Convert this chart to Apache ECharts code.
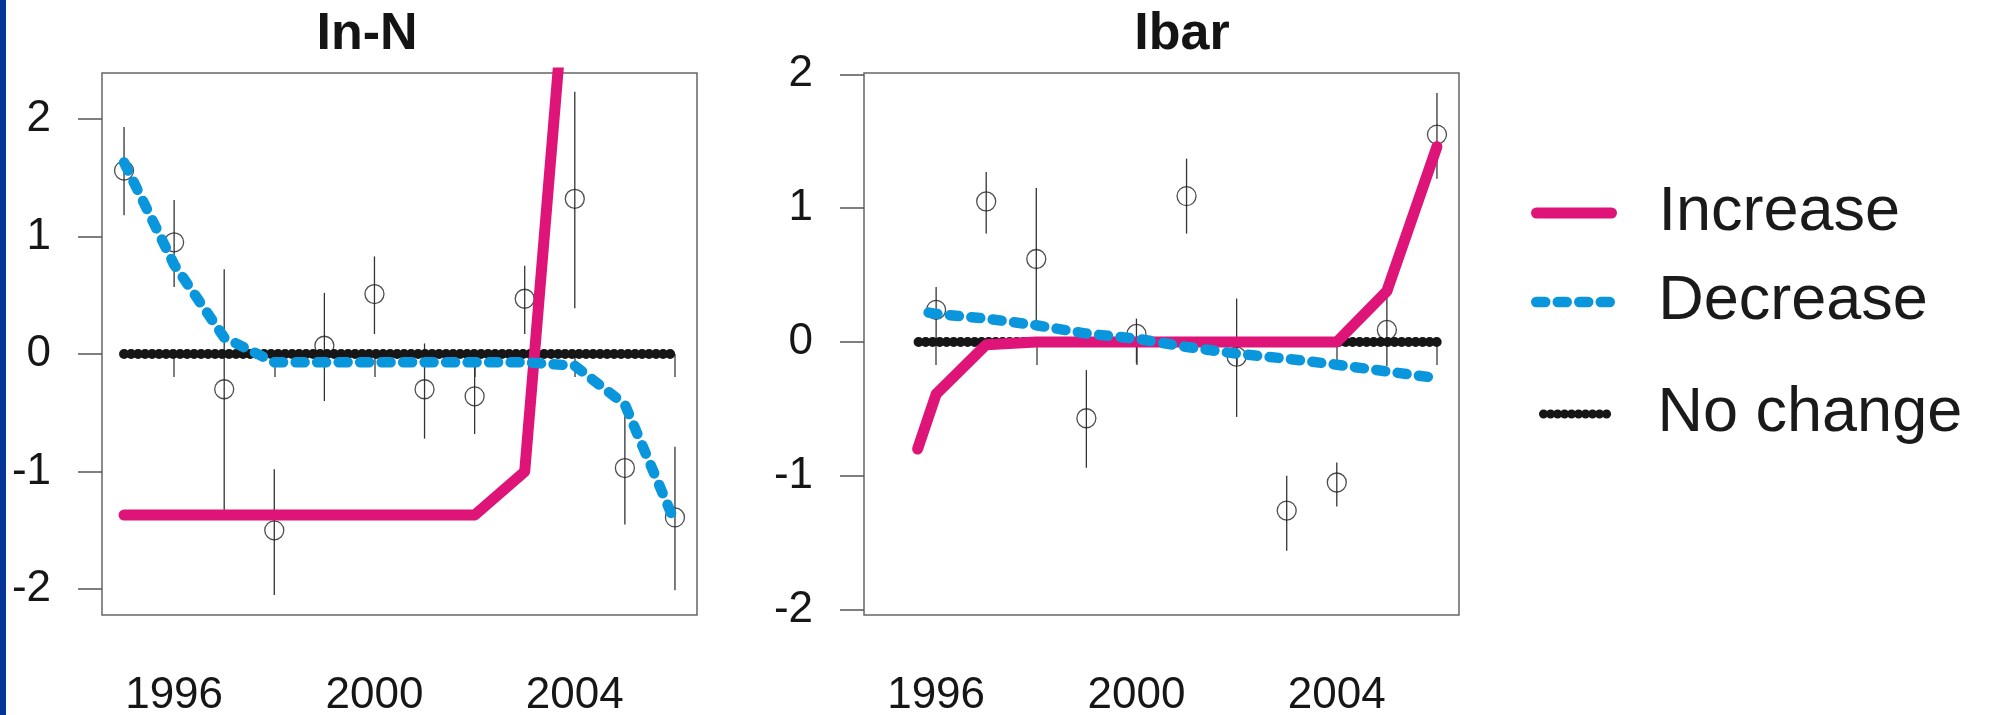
<!DOCTYPE html>
<html>
<head>
<meta charset="utf-8">
<script src="https://cdn.jsdelivr.net/npm/echarts@6/dist/echarts.min.js"></script>
<style>
  html, body { margin: 0; padding: 0; background: #fff; }
  #chart { width: 1989px; height: 715px; }
</style>
</head>
<body>
<div id="chart"></div>
<script>
// ---- data ----
var years = [1995, 1996, 1997, 1998, 1999, 2000, 2001, 2002, 2003, 2004, 2005, 2006];

// In-N panel: estimates with error bars
var innEst = [1.56, 0.95, -0.30, -1.50, 0.07, 0.51, -0.30, -0.36, 0.47, 1.32, -0.97, -1.39];
var innLo  = [1.18, 0.57, -1.34, -2.05, -0.40, 0.17, -0.72, -0.68, 0.17, 0.39, -1.45, -2.01];
var innHi  = [1.93, 1.31, 0.72, -0.98, 0.52, 0.83, 0.09, -0.05, 0.75, 2.23, -0.53, -0.79];
// In-N fitted lines
var innIncX = [1995, 1996, 1997, 1998, 1999, 2000, 2001, 2002, 2003, 2004];
var innIncY = [-1.37, -1.37, -1.37, -1.37, -1.37, -1.37, -1.37, -1.37, -1.0, 4.12];
var innDecY = [1.63, 0.76, 0.14, -0.07, -0.07, -0.07, -0.07, -0.07, -0.07, -0.10, -0.43, -1.43];
var innNoX  = [1995, 2006];
var innNoY  = [0, 0];

// Ibar panel
var ibarYears = [1996, 1997, 1998, 1999, 2000, 2001, 2002, 2003, 2004, 2005, 2006];
var ibarEst = [0.24, 1.05, 0.62, -0.57, 0.06, 1.09, -0.11, -1.26, -1.05, 0.09, 1.55];
var ibarLo  = [0.00, 0.81, 0.15, -0.94, -0.16, 0.81, -0.56, -1.56, -1.23, -0.18, 1.22];
var ibarHi  = [0.41, 1.27, 1.15, -0.21, 0.175, 1.37, 0.325, -1.00, -0.90, 0.34, 1.86];
var ibarIncX = [1995.63, 1996, 1997, 1998, 1999, 2000, 2001, 2002, 2003, 2004, 2005, 2006];
var ibarIncY = [-0.80, -0.39, -0.02, 0, 0, 0, 0, 0, 0, 0, 0.38, 1.46];
var ibarDecX = [1995.85, 1996, 1997, 1998, 1999, 2000, 2001, 2002, 2003, 2004, 2005, 2006];
var ibarDecY = [0.22, 0.21, 0.175, 0.125, 0.063, 0.025, -0.037, -0.087, -0.125, -0.17, -0.22, -0.27];
var ibarNoX  = [1995.65, 2006];
var ibarNoY  = [0, 0];

// axes
var xTicks = [1996, 1998, 2000, 2002, 2004, 2006];
var xLabels = [1996, 2000, 2004];
var yTicks = [-2, -1, 0, 1, 2];

var PINK = '#de1479', BLUE = '#0a96dc', BLACK = '#161616';
var DASH_DEC = [9, 12.5], DASH_NO = [0.1, 6.9];
var FONT = 'Liberation Sans';

function pairs(xs, ys) { return xs.map(function (x, i) { return [x, ys[i]]; }); }
function triples(xs, lo, hi) { return xs.map(function (x, i) { return [x, lo[i], hi[i]]; }); }

function errorBars(gi, data) {
  return {
    type: 'custom', xAxisIndex: gi, yAxisIndex: gi, z: 1,
    data: data, encode: { x: 0, y: [1, 2] }, silent: true,
    renderItem: function (params, api) {
      var a = api.coord([api.value(0), api.value(1)]);
      var b = api.coord([api.value(0), api.value(2)]);
      return { type: 'line', shape: { x1: a[0], y1: a[1], x2: b[0], y2: b[1] },
               style: { stroke: '#333', lineWidth: 1.3 } };
    }
  };
}
function points(gi, data) {
  return {
    type: 'scatter', xAxisIndex: gi, yAxisIndex: gi, z: 2, data: data,
    symbol: 'circle', symbolSize: 19, silent: true,
    itemStyle: { color: 'rgba(0,0,0,0)', borderColor: '#222', borderWidth: 1.3 }
  };
}
function fitLine(gi, name, data, color, dash, width, z) {
  return {
    type: 'line', name: name, xAxisIndex: gi, yAxisIndex: gi, z: z, data: data,
    symbol: 'none', silent: true, clip: true,
    lineStyle: { color: color, width: width, type: dash, cap: 'round', join: 'round' },
    itemStyle: { color: color }
  };
}
function xAxis(gi) {
  return {
    type: 'value', gridIndex: gi, min: 1994.56, max: 2006.44,
    axisLine: { show: false },
    axisTick: { show: true, customValues: xTicks, length: 23, lineStyle: { color: '#555', width: 1.5 } },
    axisLabel: { customValues: xLabels, margin: 59, fontSize: 44, color: '#161616', fontFamily: FONT,
                 formatter: function (v) { return String(v); } },
    splitLine: { show: false }
  };
}
function yAxis(gi, mn, mx) {
  return {
    type: 'value', gridIndex: gi, min: mn, max: mx,
    axisLine: { show: false },
    axisTick: { show: true, customValues: yTicks, length: 24, lineStyle: { color: '#555', width: 1.5 } },
    axisLabel: { customValues: yTicks, margin: 51, fontSize: 44, color: '#161616', fontFamily: FONT },
    splitLine: { show: false }
  };
}
function legendItem(name, left, top, w, color, dash, width) {
  return {
    data: [name], orient: 'vertical', left: left, top: top, padding: 0,
    itemWidth: w, itemHeight: 10, selectedMode: false,
    itemStyle: { opacity: 0 },
    lineStyle: { color: color, width: width, type: dash, cap: 'round', join: 'round' },
    textStyle: { fontSize: 63, fontFamily: FONT, color: '#1a1a1a', lineHeight: 70, padding: [0, 0, 0, 42] }
  };
}

var myChart = echarts.init(document.getElementById('chart'), null, { renderer: 'canvas' });
var option = {
  backgroundColor: '#ffffff',
  animation: false,
  title: [
    { text: 'In-N', left: 362, top: 4, textAlign: 'center',
      textStyle: { fontSize: 52, fontWeight: 'bold', fontFamily: FONT, color: '#141414', lineHeight: 52 } },
    { text: 'Ibar', left: 1177, top: 4, textAlign: 'center',
      textStyle: { fontSize: 52, fontWeight: 'bold', fontFamily: FONT, color: '#141414', lineHeight: 52 } }
  ],
  grid: [
    { left: 102, top: 73, width: 595, height: 542, show: true, borderColor: '#666', borderWidth: 1.5, outerBoundsMode: 'none' },
    { left: 864, top: 73, width: 595, height: 542, show: true, borderColor: '#666', borderWidth: 1.5, outerBoundsMode: 'none' }
  ],
  xAxis: [xAxis(0), xAxis(1)],
  yAxis: [yAxis(0, -2.22, 2.39), yAxis(1, -2.04, 2.01)],
  legend: [
    legendItem('Increase', 1531, 178, 75, PINK, 'solid', 11),
    legendItem('Decrease', 1531, 267, 75, BLUE, DASH_DEC, 10.5),
    legendItem('No change', 1539, 379, 67, BLACK, DASH_NO, 9)
  ],
  graphic: [
    { type: 'rect', left: 0, top: 0, shape: { width: 6, height: 715 }, style: { fill: '#06359a' } }
  ],
  series: [
    errorBars(0, triples(years, innLo, innHi)),
    points(0, pairs(years, innEst)),
    fitLine(0, 'No change', pairs(innNoX, innNoY), BLACK, DASH_NO, 10, 3),
    fitLine(0, 'Increase', pairs(innIncX, innIncY), PINK, 'solid', 11, 4),
    fitLine(0, 'Decrease', pairs(years, innDecY), BLUE, DASH_DEC, 10.5, 5),

    errorBars(1, triples(ibarYears, ibarLo, ibarHi)),
    points(1, pairs(ibarYears, ibarEst)),
    fitLine(1, 'No change', pairs(ibarNoX, ibarNoY), BLACK, DASH_NO, 10, 3),
    fitLine(1, 'Increase', pairs(ibarIncX, ibarIncY), PINK, 'solid', 11, 4),
    fitLine(1, 'Decrease', pairs(ibarDecX, ibarDecY), BLUE, DASH_DEC, 10.5, 5)
  ]
};
myChart.setOption(option);
</script>
</body>
</html>
